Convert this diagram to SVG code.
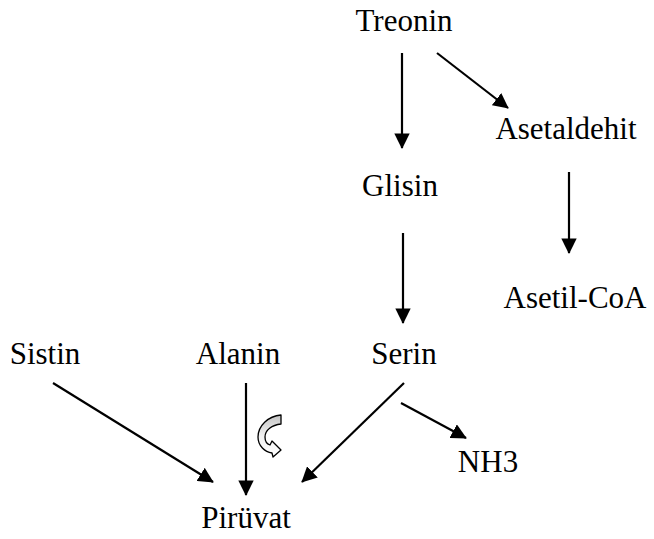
<svg xmlns="http://www.w3.org/2000/svg" width="654" height="539" viewBox="0 0 654 539">
<style>
text{font-family:"Liberation Serif","Times New Roman",serif;font-size:31px;fill:#000;text-anchor:middle}
.c line{stroke:#000;stroke-width:2.2;marker-end:url(#ah)}
</style>
<defs>
<marker id="ah" markerWidth="7" markerHeight="7" refX="6.6" refY="3.5" orient="auto" markerUnits="strokeWidth">
<path d="M0,0 L7,3.5 L0,7 Z" fill="#000"/>
</marker>
<linearGradient id="g" x1="0" y1="0" x2="0" y2="1">
<stop offset="0" stop-color="#c4c4c4"/>
<stop offset="0.5" stop-color="#f2f2f2"/>
<stop offset="1" stop-color="#fff"/>
</linearGradient>
</defs>
<rect width="654" height="539" fill="#fff"/>
<g id="treonin"><text x="404" y="31">Treonin</text></g>
<g id="asetaldehit"><text x="566" y="139">Asetaldehit</text></g>
<g id="glisin"><text x="400" y="196">Glisin</text></g>
<g id="asetilcoa"><text x="575" y="308">Asetil-CoA</text></g>
<g id="sistin"><text x="45" y="364">Sistin</text></g>
<g id="alanin"><text x="238" y="364">Alanin</text></g>
<g id="serin"><text x="404" y="364">Serin</text></g>
<g id="nh3"><text x="488" y="472">NH3</text></g>
<g id="piruvat"><text x="246" y="528">Pirüvat</text></g>
<g id="connectors" class="c">
<line x1="402" y1="53" x2="402" y2="148"/>
<line x1="437" y1="53" x2="508" y2="108"/>
<line x1="569" y1="172" x2="569" y2="253"/>
<line x1="403" y1="233" x2="403" y2="323"/>
<line x1="53" y1="383" x2="213" y2="482"/>
<line x1="246" y1="383" x2="246" y2="495"/>
<line x1="404" y1="383" x2="302" y2="482"/>
<line x1="401" y1="403" x2="466" y2="438"/>
</g>
<g id="curved-arrow">
<path d="M281,415 L281,424 C272,425 265,430 265,437 C265,441 267,444 270,445 L272,441 L281,450 L273,457 L272,453 C265,452 258,446 258,437 C258,426 268,416 281,415 Z" fill="url(#g)" stroke="#000" stroke-width="1.3" stroke-linejoin="round"/>
</g>
</svg>
